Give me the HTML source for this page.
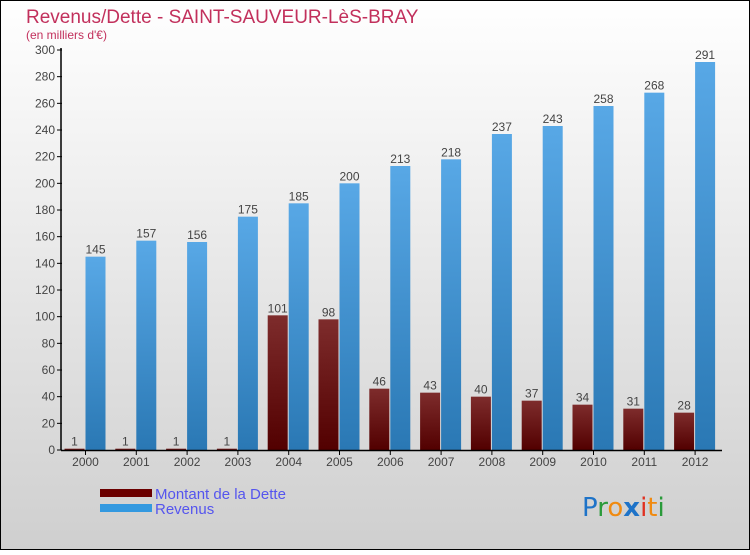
<!DOCTYPE html>
<html><head><meta charset="utf-8"><style>
html,body{margin:0;padding:0}
body{width:750px;height:550px;overflow:hidden;font-family:"Liberation Sans",sans-serif}
</style></head><body>
<svg width="750" height="550" xmlns="http://www.w3.org/2000/svg">
<defs>
<linearGradient id="bg" x1="0" y1="0" x2="0" y2="1"><stop offset="0" stop-color="#ffffff"/><stop offset="1" stop-color="#cfcfcf"/></linearGradient>
<linearGradient id="gr" x1="0" y1="0" x2="0" y2="1"><stop offset="0" stop-color="#58a8e6"/><stop offset="1" stop-color="#2a78b4"/></linearGradient>
<linearGradient id="gd" x1="0" y1="0" x2="0" y2="1"><stop offset="0" stop-color="#7e2c2c"/><stop offset="1" stop-color="#520000"/></linearGradient>
</defs>
<rect x="0.5" y="0.5" width="749" height="549" fill="url(#bg)" stroke="#000"/>
<text x="26" y="23" font-size="19" fill="#c2305c">Revenus/Dette - SAINT-SAUVEUR-LèS-BRAY</text>
<text x="26" y="39" font-size="12" fill="#c2305c">(en milliers d'€)</text>
<g id="yaxis"></g>
<g id="bars"></g>
<g id="xaxis"></g>
<rect x="100" y="489" width="52" height="8" fill="#6b0000"/>
<rect x="100" y="504" width="52" height="8" fill="#3399e0"/>
<text x="155" y="499" font-size="15" fill="#5555ee">Montant de la Dette</text>
<text x="155" y="514" font-size="15" fill="#5555ee">Revenus</text>
<text x="582" y="516" font-size="26" font-family="'DejaVu Sans',sans-serif"><tspan fill="#1e73c8">P</tspan><tspan fill="#2a9a3a">r</tspan><tspan fill="#f08a10">o</tspan><tspan fill="#1e73c8" font-weight="bold">x</tspan><tspan fill="#e03020">i</tspan><tspan fill="#f08a10">t</tspan><tspan fill="#2a9a3a">i</tspan></text>
</svg>
<script>
const years=["2000","2001","2002","2003","2004","2005","2006","2007","2008","2009","2010","2011","2012"];
const dette=[1,1,1,1,101,98,46,43,40,37,34,31,28];
const revenus=[145,157,156,175,185,200,213,218,237,243,258,268,291];
const yTicks=[0,20,40,60,80,100,120,140,160,180,200,220,240,260,280,300];
const NS="http://www.w3.org/2000/svg";
const y=v=>450-v*400/300;
const cx=i=>85.5+i*50.8;
function mk(tag,attrs,parent){const e=document.createElementNS(NS,tag);for(const k in attrs)e.setAttribute(k,attrs[k]);parent.appendChild(e);return e;}
const ya=document.getElementById('yaxis'),ba=document.getElementById('bars'),xa=document.getElementById('xaxis');
yTicks.forEach(t=>{
  const l=mk('line',{x1:57,x2:62,y1:y(t),y2:y(t),stroke:'#000'},ya);
  
  
  const tx=mk('text',{x:55,y:y(t)+4,'font-size':12,fill:'#444','text-anchor':'end'},ya);
  tx.textContent=t;
  
  
});
years.forEach((yr,i)=>{
  const c=cx(i);
  const d=mk('rect',{x:c-21,y:y(dette[i]),width:20,height:450-y(dette[i]),fill:'url(#gd)'},ba);
  
  
  const r=mk('rect',{x:c,y:y(revenus[i]),width:20,height:450-y(revenus[i]),fill:'url(#gr)'},ba);
  
  
  const dl=mk('text',{x:c-11,y:y(dette[i])-3,'font-size':12,fill:'#444','text-anchor':'middle'},ba);
  dl.textContent=dette[i];
  
  
  const rl=mk('text',{x:c+10,y:y(revenus[i])-3,'font-size':12,fill:'#444','text-anchor':'middle'},ba);
  rl.textContent=revenus[i];
  
  
  const tk=mk('line',{x1:c,x2:c,y1:450,y2:455,stroke:'#000'},xa);
  
  
  const xl=mk('text',{x:c,y:466,'font-size':12,fill:'#444','text-anchor':'middle'},xa);
  xl.textContent=yr;
  
  
});
const ax=mk('line',{x1:61,x2:61,y1:48,y2:450,stroke:'#000','stroke-width':1.5},ya);


const xx=mk('line',{x1:61,x2:722,y1:450.5,y2:450.5,stroke:'#000','stroke-width':1.5},xa);


</script>
</body></html>
